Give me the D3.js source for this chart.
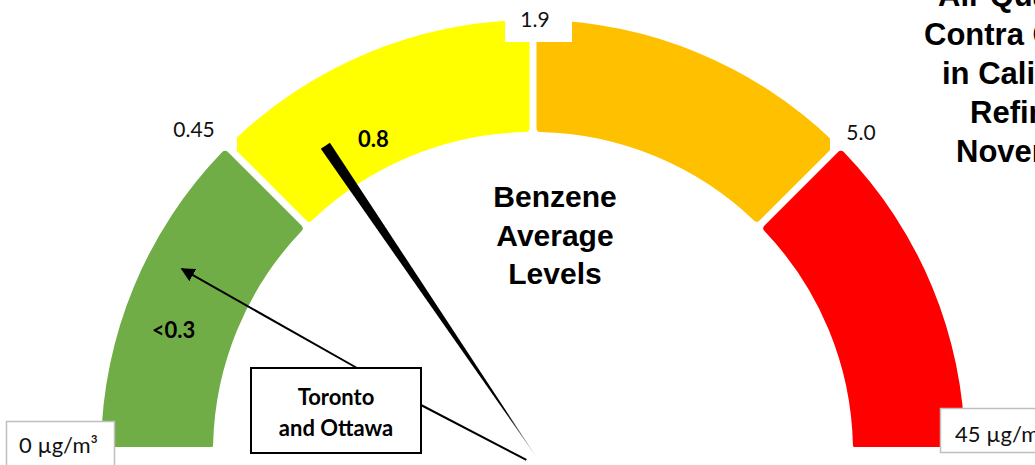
<!DOCTYPE html>
<html>
<head>
<meta charset="utf-8">
<script src="https://cdn.jsdelivr.net/npm/d3@7"></script>
<style>
  body { margin: 0; background: #fff; }
  svg { display: block; }
</style>
</head>
<body>
<svg width="1035" height="465"></svg>
<script>
// gauge bands and break values (ug/m3)
var breaks = [0, 0.45, 1.9, 5.0, 45];
var bandColors = ["#70ad47", "#ffff00", "#ffc000", "#ff0000"];
var breakLabels = ["0 \u00b5g/m\u00b3", "0.45", "1.9", "5.0", "45 \u00b5g/m\u00b3"];
var needleValue = 0.8;
var needleLabel = "0.8";
var cityValue = 0.3;
var cityLabel = "<0.3";
var cityName = ["Toronto", "and Ottawa"];
var centerTitle = ["Benzene", "Average", "Levels"];
var sideTitle = ["Air Quality in", "Contra Costa County", "in California", "Refineries", "November 2019"];

var svg = d3.select("svg"),
    cx = 533, cy = 452,
    outerR = 432, innerR = 320;

// piecewise scale, each band takes a quarter of the half circle
var angle = d3.scaleLinear()
    .domain(breaks)
    .range([-Math.PI / 2, -Math.PI / 4, 0, Math.PI / 4, Math.PI / 2]);

function pt(a, r) {
  return [cx + r * Math.sin(a), cy - r * Math.cos(a)];
}

var defs = svg.append("defs");
defs.append("clipPath")
    .attr("id", "clip")
  .append("rect")
    .attr("x", 0).attr("y", 0)
    .attr("width", 1035).attr("height", 447);

var bands = d3.range(bandColors.length).map(function(i) {
  return {start: breaks[i], end: breaks[i + 1], color: bandColors[i]};
});

var arc = d3.arc()
    .innerRadius(innerR)
    .outerRadius(outerR)
    .startAngle(function(d) { return angle(d.start); })
    .endAngle(function(d) { return angle(d.end); })
    .padAngle(0.013)
    .cornerRadius(4);

svg.append("g")
    .attr("clip-path", "url(#clip)")
  .append("g")
    .attr("transform", "translate(" + cx + "," + cy + ")")
  .selectAll("path")
  .data(bands)
  .enter().append("path")
    .attr("d", arc)
    .attr("fill", function(d) { return d.color; });

// white boxes behind the inner break labels
var tickBoxes = [
  {x: 165, y: 108, w: 72, h: 42, tx: 194, ty: 137},
  {x: 505, y: 0, w: 67, h: 42, tx: 535, ty: 27},
  {x: 830, y: 110, w: 70, h: 40, tx: 861, ty: 140}
];
tickBoxes.forEach(function(b, i) {
  svg.append("rect")
      .attr("x", b.x).attr("y", b.y)
      .attr("width", b.w).attr("height", b.h)
      .attr("fill", "#fff");
  svg.append("text")
      .attr("x", b.tx).attr("y", b.ty)
      .attr("text-anchor", "middle")
      .style("font", "21px Lato, 'Open Sans', sans-serif")
      .attr("fill", "#111")
      .text(breakLabels[i + 1]);
});

// end labels with grey frames
var endBoxes = [
  {x: 6, y: 421, w: 108, h: 50, tx: 19, ty: 453, label: breakLabels[0]},
  {x: 940, y: 408, w: 110, h: 44, tx: 955, ty: 442, label: breakLabels[4]}
];
endBoxes.forEach(function(b) {
  svg.append("rect")
      .attr("x", b.x + 0.5).attr("y", b.y + 0.5)
      .attr("width", b.w).attr("height", b.h)
      .attr("fill", "#fff")
      .attr("stroke", "#bfbfbf")
      .attr("stroke-width", 1.5);
  svg.append("text")
      .attr("x", b.tx).attr("y", b.ty)
      .style("font", "22px Lato, 'Open Sans', sans-serif")
      .attr("fill", "#111")
      .text(b.label);
});

// needle
var na = angle(needleValue),
    base = pt(na, 370),
    tip = pt(na, -6),
    nx = Math.cos(na) * 5.5, ny = Math.sin(na) * 5.5;

var grad = defs.append("linearGradient")
    .attr("id", "needleGrad")
    .attr("gradientUnits", "userSpaceOnUse")
    .attr("x1", base[0]).attr("y1", base[1])
    .attr("x2", tip[0]).attr("y2", tip[1]);
grad.append("stop").attr("offset", "0.85").attr("stop-color", "#000");
grad.append("stop").attr("offset", "1").attr("stop-color", "#bbb");

svg.append("path")
    .attr("d", d3.line()([[base[0] - nx, base[1] - ny], [base[0] + nx, base[1] + ny], tip]) + "Z")
    .attr("fill", "url(#needleGrad)");

var nl = pt(na + 0.113, 344);
svg.append("text")
    .attr("x", nl[0]).attr("y", nl[1])
    .attr("text-anchor", "middle")
    .style("font", "bold 22px Lato, sans-serif")
    .text(needleLabel);

// city value in the green band
var cl = pt(angle(cityValue) - 0.217, 377);
svg.append("text")
    .attr("x", cl[0]).attr("y", cl[1])
    .attr("text-anchor", "middle")
    .style("font", "bold 22px Lato, sans-serif")
    .text(cityLabel);

// centre title
svg.append("text")
    .attr("text-anchor", "middle")
    .style("font", "bold 30px 'Liberation Sans', Arial, sans-serif")
  .selectAll("tspan")
  .data(centerTitle)
  .enter().append("tspan")
    .attr("x", 555)
    .attr("y", function(d, i) { return 207 + i * 38.5; })
    .text(function(d) { return d; });

// side title (runs off the right edge)
var sideX = [938, 924, 942, 970, 956];
svg.append("g")
  .selectAll("text")
  .data(sideTitle)
  .enter().append("text")
    .attr("x", function(d, i) { return sideX[i]; })
    .attr("y", function(d, i) { return 6 + i * 39; })
    .style("font", "bold 31px 'Liberation Sans', Arial, sans-serif")
    .text(function(d) { return d; });

// callout box with arrow
defs.append("marker")
    .attr("id", "arrow")
    .attr("viewBox", "0 0 10 10")
    .attr("refX", 9).attr("refY", 5)
    .attr("markerWidth", 7).attr("markerHeight", 7)
    .attr("orient", "auto")
  .append("path")
    .attr("d", "M0,0L10,5L0,10Z");

var arrowTo = pt(angle(cityValue) - 0.043, 396);
svg.append("line")
    .attr("x1", 357).attr("y1", 368)
    .attr("x2", arrowTo[0]).attr("y2", arrowTo[1])
    .attr("stroke", "#000").attr("stroke-width", 2)
    .attr("marker-end", "url(#arrow)");

svg.append("line")
    .attr("x1", 421).attr("y1", 405)
    .attr("x2", tip[0] - 10).attr("y2", tip[1] + 3)
    .attr("stroke", "#000").attr("stroke-width", 2);

svg.append("rect")
    .attr("x", 251).attr("y", 368)
    .attr("width", 170).attr("height", 85)
    .attr("fill", "#fff")
    .attr("stroke", "#000")
    .attr("stroke-width", 2);

svg.append("text")
    .attr("text-anchor", "middle")
    .style("font", "bold 22px Lato, sans-serif")
  .selectAll("tspan")
  .data(cityName)
  .enter().append("tspan")
    .attr("x", 336)
    .attr("y", function(d, i) { return 405 + i * 31; })
    .text(function(d) { return d; });
</script>
</body>
</html>
